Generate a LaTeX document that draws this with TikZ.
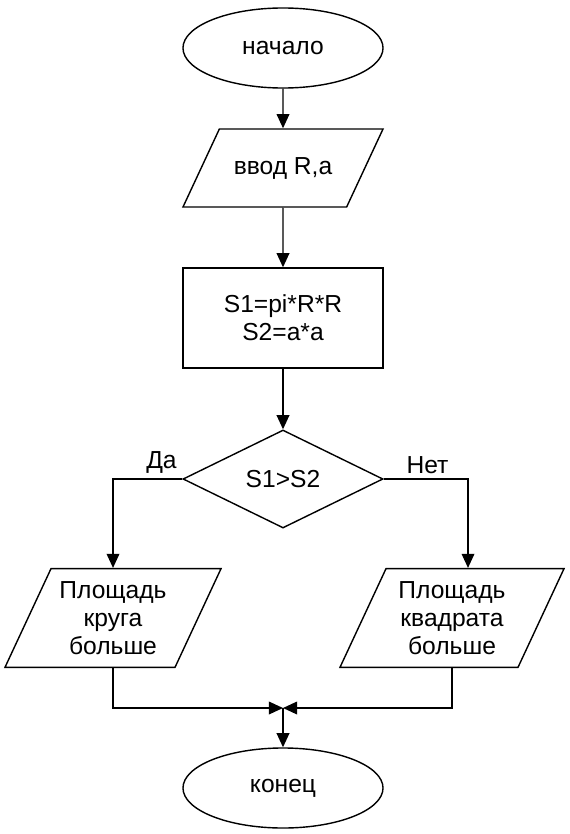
\documentclass[tikz,border=0pt]{standalone}
\usepackage{fontspec}
\setmainfont{Liberation Sans}
\usetikzlibrary{shapes.geometric,arrows.meta,positioning}

\begin{document}
\begin{tikzpicture}[
    x=0.025cm, y=-0.025cm,
    font=\fontsize{17.5}{20}\selectfont,
    termbox/.style={draw, ellipse, line width=1pt, minimum width=5cm, minimum height=2cm, inner sep=0pt},
    iobox/.style={draw, trapezium, trapezium left angle=65, trapezium right angle=115, trapezium stretches body, line width=1pt, align=center, minimum height=0pt, inner xsep=0pt, inner ysep=9pt},
    procbox/.style={draw, rectangle, line width=1pt, minimum width=5cm, minimum height=2.5cm, align=center},
    decbox/.style={draw, diamond, aspect=2, line width=1pt, minimum width=5cm, minimum height=2.45cm, inner sep=0pt},
    wire/.style={-{Triangle[length=10pt,width=9pt]}, line width=1pt}
]
\useasboundingbox (0,0) rectangle (570,834);

    % Начало и ввод данных
    \node[termbox] (start) at (283,48) {начало};
    \node[iobox, minimum width=5cm, inner ysep=20pt] (input) at (283,168) {ввод R,a};

    % Вычисление площадей
    \node[procbox] (calc) at (283,318) {S1=pi*R*R\\S2=a*a};

    % Условие
    \node[decbox] (cond) at (283,479) {S1>S2};

    % Ветки вывода
    \node[iobox, minimum width=5.4cm] (circ) at (113,618) {Площадь\\круга\\больше};
    \node[iobox, minimum width=5.6cm] (sq) at (452,618) {Площадь\\квадрата\\больше};

    % Конец
    \coordinate (merge) at (283,708);
    \node[termbox] (stop) at (283,788) {конец};

    \draw[wire] (start) -- (input);
    \draw[wire] (input) -- (calc);
    \draw[wire] (calc) -- (cond);
    \draw[wire] (cond.west) -| node[pos=0.15, above] {Да} (circ.north);
    \draw[wire] (cond.east) -| node[pos=0.26, above] {Нет} ([xshift=0.4cm]sq.north);

    \draw[wire] (circ.south) |- (merge);
    \draw[wire] (sq.south) |- (merge);
    \draw[wire] (merge) -- (stop);

\end{tikzpicture}
\end{document}
